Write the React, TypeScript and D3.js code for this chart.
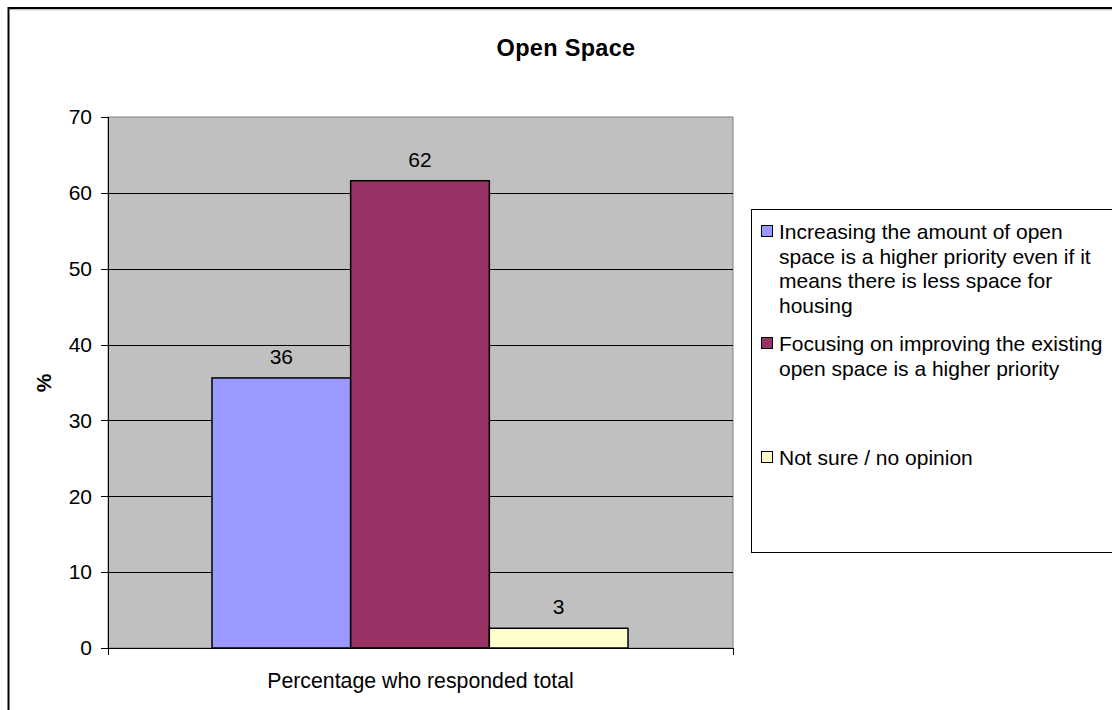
import React from "react";
import * as d3 from "d3";

// Survey result: open space priorities
const chartTitle = "Open Space";
const category = "Percentage who responded total";
const seriesNames = [
  "Increasing the amount of open space is a higher priority even if it means there is less space for housing",
  "Focusing on improving the existing open space is a higher priority",
  "Not sure / no opinion",
];
const seriesValues = [35.6, 61.6, 2.6];
const seriesColors = ["#9999FF", "#993366", "#FFFFCC"];
const legendLines = [
  ["Increasing the amount of open", "space is a higher priority even if it", "means there is less space for", "housing"],
  ["Focusing on improving the existing", "open space is a higher priority"],
  ["Not sure / no opinion"],
];
const yTicks = [0, 10, 20, 30, 40, 50, 60, 70];

const W = 1112;
const H = 710;
const FONT = "'Liberation Sans', Arial, sans-serif";

export default function App() {
  const plot = { left: 108, right: 733, top: 117, bottom: 648 };
  const y = d3.scaleLinear().domain([0, 70]).range([plot.bottom, plot.top]);
  const x0 = d3.scaleBand().domain([category]).range([plot.left, plot.right]).paddingInner(0).paddingOuter(0.2);
  const groupStart = plot.left + 104;
  const groupEnd = plot.right - 105;
  const x1 = d3.scaleBand<number>().domain(d3.range(seriesValues.length)).range([groupStart, groupEnd]);
  const fmt = d3.format(".0f");

  const legendEntryY = [239, 351, 465];
  const lineH = 24.7;

  return (
    <svg width={W} height={H} style={{ position: "absolute", left: 0, top: 0, fontFamily: FONT }}>
      <rect x={0} y={0} width={W} height={H} fill="#fff" />
      {/* chart frame */}
      <rect x={8.5} y={8} width={W + 10} height={H + 10} fill="none" stroke="#000" strokeWidth={2} />
      <line x1={9} x2={W} y1={9.7} y2={9.7} stroke="#999" strokeWidth={0.8} />

      <text x={566} y={56} textAnchor="middle" fontSize={23.5} fontWeight="bold" letterSpacing={0.3}>
        {chartTitle}
      </text>

      {/* plot area */}
      <rect x={plot.left} y={plot.top} width={plot.right - plot.left} height={plot.bottom - plot.top} fill="#C0C0C0" stroke="#808080" strokeWidth={1} />
      {yTicks.map((t) => (
        <g key={t}>
          {t > 0 && t < 70 && (
            <line x1={plot.left} x2={plot.right} y1={Math.round(y(t)) + 0.5} y2={Math.round(y(t)) + 0.5} stroke="#000" strokeWidth={1} />
          )}
          <line x1={plot.left - 7} x2={plot.left} y1={Math.round(y(t)) + 0.5} y2={Math.round(y(t)) + 0.5} stroke="#000" strokeWidth={1} />
          <text x={92} y={y(t)} dy="0.35em" textAnchor="end" fontSize={21}>
            {t}
          </text>
        </g>
      ))}

      {seriesValues.map((v, i) => (
        <g key={i}>
          <rect
            x={x1(i)!}
            y={y(v)}
            width={x1.bandwidth()}
            height={y(0) - y(v)}
            fill={seriesColors[i]}
            stroke="#000"
            strokeWidth={1.5}
          />
          <text x={x1(i)! + x1.bandwidth() / 2} y={y(v) - 14} textAnchor="middle" fontSize={21}>
            {fmt(v)}
          </text>
        </g>
      ))}

      {/* axes */}
      <line x1={plot.left + 0.5} x2={plot.left + 0.5} y1={plot.top} y2={plot.bottom + 7} stroke="#000" strokeWidth={1} />
      <line x1={plot.left - 7} x2={plot.right} y1={plot.bottom + 0.5} y2={plot.bottom + 0.5} stroke="#000" strokeWidth={1} />
      <line x1={plot.right + 0.5} x2={plot.right + 0.5} y1={plot.bottom} y2={plot.bottom + 7} stroke="#000" strokeWidth={1} />

      <text x={x0(category)! + x0.bandwidth() / 2} y={688} textAnchor="middle" fontSize={21.3}>
        {category}
      </text>
      <text transform="translate(51,383) rotate(-90)" textAnchor="middle" fontSize={21} fontWeight="bold">
        %
      </text>

      {/* legend */}
      <rect x={751.5} y={209.5} width={W} height={343} fill="#fff" stroke="#000" strokeWidth={1} />
      {legendLines.map((lines, i) => (
        <g key={i}>
          <title>{seriesNames[i]}</title>
          <rect x={761.5} y={legendEntryY[i] - 13.5} width={11} height={11} fill={seriesColors[i]} stroke="#000" strokeWidth={1} />
          {lines.map((ln, j) => (
            <text key={j} x={779} y={legendEntryY[i] + j * lineH} fontSize={21}>
              {ln}
            </text>
          ))}
        </g>
      ))}
    </svg>
  );
}
